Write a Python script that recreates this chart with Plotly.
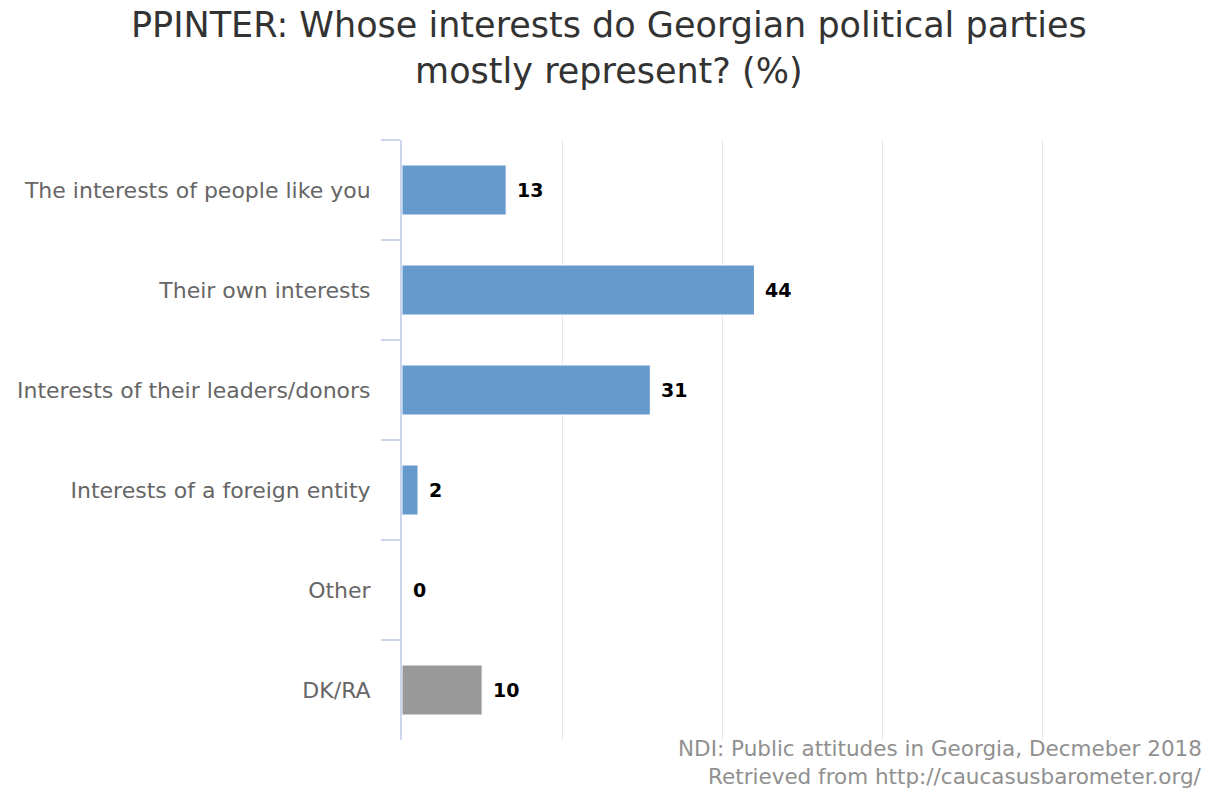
import plotly.graph_objects as go

categories = [
    "The interests of people like you",
    "Their own interests",
    "Interests of their leaders/donors",
    "Interests of a foreign entity",
    "Other",
    "DK/RA",
]
values = [13, 44, 31, 2, 0, 10]
bar_colors = ["#6699cc", "#6699cc", "#6699cc", "#6699cc", "#6699cc", "#999999"]
x_ticks = [0, 20, 40, 60, 80, 100]

title_text = "PPINTER: Whose interests do Georgian political parties<br>mostly represent? (%)"
source_lines = [
    "NDI: Public attitudes in Georgia, Decmeber 2018",
    "Retrieved from http://caucasusbarometer.org/",
]

W, H = 1209, 791
M_L, M_R, M_T, M_B = 402, 6, 140, 51
plot_w = W - M_L - M_R
plot_h = H - M_T - M_B


def px_x(px):
    return (px - M_L) / plot_w


def px_y(px):
    return (M_T + plot_h - px) / plot_h


fig = go.Figure()
fig.add_trace(go.Bar(
    x=values,
    y=categories,
    orientation="h",
    width=0.5,
    marker=dict(color=bar_colors, line=dict(color="#ffffff", width=1)),
    hoverinfo="x+y",
))

# value labels just right of each bar end
for cat, val in zip(categories, values):
    fig.add_annotation(
        x=val, y=cat, xref="x", yref="y",
        text=f"<b>{val}</b>", showarrow=False,
        xanchor="left", xshift=9,
        font=dict(family="DejaVu Sans", size=19, color="#000000"),
    )

# chart title, centred on the full page width
fig.add_annotation(
    x=px_x(W / 2 + 4), y=px_y(3),
    xref="paper", yref="paper",
    text=title_text, showarrow=False,
    xanchor="center", yanchor="top", align="center",
    font=dict(family="DejaVu Sans", size=35, color="#333333"),
)

# source note under the plot, right aligned
for i, line in enumerate(source_lines):
    fig.add_annotation(
        x=px_x(1204), y=px_y(748 + 28 * i),
        xref="paper", yref="paper",
        text=line, showarrow=False,
        xanchor="right", yanchor="middle", align="right",
        font=dict(family="DejaVu Sans", size=21.5, color="#909090"),
    )

fig.update_layout(
    width=W, height=H,
    paper_bgcolor="#ffffff", plot_bgcolor="#ffffff",
    margin=dict(l=M_L, r=M_R, t=M_T, b=M_B),
    showlegend=False,
    xaxis=dict(
        range=[0, 100], tickvals=x_ticks, showticklabels=False,
        showgrid=True, gridcolor="#e6e6e6", gridwidth=1,
        zeroline=False, showline=False, fixedrange=True,
    ),
    yaxis=dict(
        autorange="reversed", type="category",
        showline=True, linecolor="#ccd6eb", linewidth=2,
        ticks="outside", tickson="boundaries", ticklen=19,
        tickcolor="#ccd6eb", tickwidth=2,
        showgrid=False, zeroline=False,
        tickfont=dict(family="DejaVu Sans", size=22, color="#666666"),
        ticklabelstandoff=25,
    ),
    bargap=0.5,
)

fig.write_html("out.html")
